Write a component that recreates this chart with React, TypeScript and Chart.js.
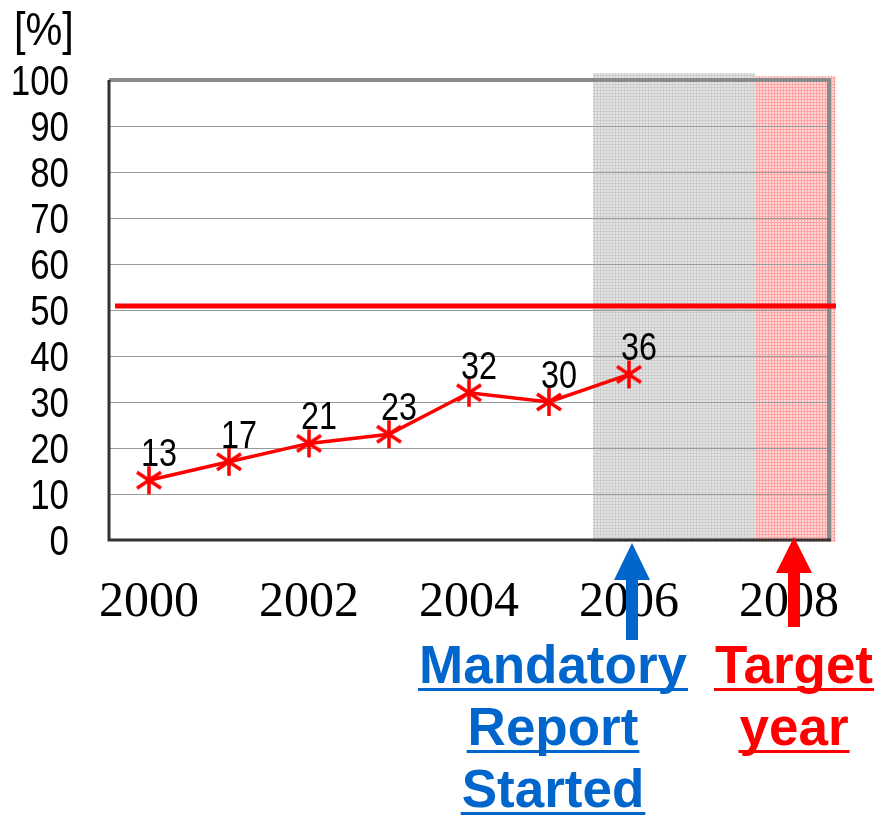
import React, { useEffect, useRef } from 'react';
import { Chart, registerables } from 'chart.js';

Chart.register(...registerables);

const years = ['2000', '2001', '2002', '2003', '2004', '2005', '2006', '2007', '2008'];
const rates: (number | null)[] = [13, 17, 21, 23, 32, 30, 36, null, null];
const targetRate = 50;
const yTitle = '[%]';
const mandatoryText = ['Mandatory', 'Report', 'Started'];
const targetText = ['Target', 'year'];

const SANS = '"Liberation Sans", Arial, sans-serif';
const SERIF = '"Liberation Serif", "Times New Roman", serif';

function makeStar(): HTMLCanvasElement {
  const c = document.createElement('canvas');
  c.width = 30;
  c.height = 30;
  const g = c.getContext('2d')!;
  g.strokeStyle = '#ff0000';
  g.lineWidth = 3.5;
  g.lineCap = 'butt';
  g.beginPath();
  g.moveTo(15, 1); g.lineTo(15, 29);
  g.moveTo(3, 7); g.lineTo(27, 23);
  g.moveTo(3, 23); g.lineTo(27, 7);
  g.stroke();
  return c;
}

function makePattern(ctx: CanvasRenderingContext2D, base: string, line: string) {
  const c = document.createElement('canvas');
  c.width = 3;
  c.height = 3;
  const g = c.getContext('2d')!;
  g.fillStyle = base;
  g.fillRect(0, 0, 3, 3);
  g.fillStyle = line;
  g.fillRect(0, 0, 1, 3);
  g.fillRect(0, 0, 3, 1);
  return ctx.createPattern(c, 'repeat')!;
}

function narrowText(
  ctx: CanvasRenderingContext2D,
  text: string,
  x: number,
  y: number,
  size: number,
  align: CanvasTextAlign,
  baseline: CanvasTextBaseline,
  sx = 0.83
) {
  ctx.save();
  ctx.translate(x, y);
  ctx.scale(sx, 1);
  ctx.font = `${size}px ${SANS}`;
  ctx.textAlign = align;
  ctx.textBaseline = baseline;
  ctx.fillStyle = '#000';
  ctx.fillText(text, 0, 0);
  ctx.restore();
}

const decorPlugin = {
  id: 'decor',
  beforeDraw(chart: any) {
    const ctx = chart.ctx as CanvasRenderingContext2D;
    const ca = chart.chartArea;
    const xs = chart.scales.x;
    const band = xs.getPixelForValue(1) - xs.getPixelForValue(0);
    const grayL = xs.getPixelForValue(6) - band * 0.45;
    const grayR = xs.getPixelForValue(7) + band * 0.58;
    const redR = xs.getPixelForValue(8) + band * 0.58;
    ctx.save();
    ctx.fillStyle = makePattern(ctx, '#e4e4e4', '#cdcdcd');
    ctx.fillRect(grayL, ca.top - 7, grayR - grayL, ca.bottom - ca.top + 9);
    ctx.fillStyle = makePattern(ctx, '#ffd9d9', '#ffa3a3');
    ctx.fillRect(grayR, ca.top - 4, redR - grayR, ca.bottom - ca.top + 6);
    ctx.restore();
  },
  beforeDatasetsDraw(chart: any) {
    const ctx = chart.ctx as CanvasRenderingContext2D;
    const ca = chart.chartArea;
    const ys = chart.scales.y;
    ctx.save();
    // frame
    ctx.strokeStyle = '#8a8a8a';
    ctx.lineWidth = 4;
    ctx.beginPath();
    ctx.moveTo(ca.left, ca.top);
    ctx.lineTo(ca.right, ca.top);
    ctx.lineTo(ca.right, ca.bottom);
    ctx.stroke();
    ctx.strokeStyle = '#333';
    ctx.lineWidth = 3;
    ctx.beginPath();
    ctx.moveTo(ca.left, ca.top);
    ctx.lineTo(ca.left, ca.bottom);
    ctx.lineTo(ca.right + 2, ca.bottom);
    ctx.stroke();
    // target line
    const ty = ys.getPixelForValue(targetRate) - 4;
    ctx.strokeStyle = '#ff0000';
    ctx.lineWidth = 5;
    ctx.beginPath();
    ctx.moveTo(ca.left + 6, ty);
    ctx.lineTo(ca.right + 7, ty);
    ctx.stroke();
    ctx.restore();
  },
  afterDraw(chart: any) {
    const ctx = chart.ctx as CanvasRenderingContext2D;
    const ca = chart.chartArea;
    const xs = chart.scales.x;
    const ys = chart.scales.y;
    ctx.save();
    // y title
    narrowText(ctx, yTitle, 14, 45, 46, 'left', 'alphabetic', 0.9);

    // y tick labels (narrow)
    ys.ticks.forEach((t: any) => {
      narrowText(ctx, String(t.value), ca.left - 40, ys.getPixelForValue(t.value) + 15, 42, 'right', 'alphabetic');
    });

    // data labels
    const meta = chart.getDatasetMeta(0);
    meta.data.forEach((p: any, i: number) => {
      const v = rates[i];
      if (v == null) return;
      narrowText(ctx, String(v), p.x + 10, p.y - 14, 39, 'center', 'alphabetic');
    });

    const arrow = (x: number, tip: number, base: number, bottom: number, color: string) => {
      ctx.fillStyle = color;
      ctx.beginPath();
      ctx.moveTo(x, tip);
      ctx.lineTo(x + 18, base);
      ctx.lineTo(x + 6, base);
      ctx.lineTo(x + 6, bottom);
      ctx.lineTo(x - 6, bottom);
      ctx.lineTo(x - 6, base);
      ctx.lineTo(x - 18, base);
      ctx.closePath();
      ctx.fill();
    };
    arrow(xs.getPixelForValue(6) + 3, ca.bottom + 3, ca.bottom + 40, ca.bottom + 100, '#0066cc');
    arrow(xs.getPixelForValue(8) + 5, ca.bottom - 3, ca.bottom + 33, ca.bottom + 87, '#ff0000');

    const lines = (texts: string[], cx: number, baseline0: number, color: string) => {
      ctx.font = `bold 53px ${SANS}`;
      ctx.fillStyle = color;
      ctx.textAlign = 'center';
      ctx.textBaseline = 'alphabetic';
      texts.forEach((t, i) => {
        const by = baseline0 + i * 62;
        ctx.fillText(t, cx, by);
        const w = ctx.measureText(t).width;
        ctx.fillRect(cx - w / 2 - 1, by + 5, w + 2, 3);
      });
    };
    lines(mandatoryText, 553, 683, '#0066cc');
    lines(targetText, 794, 683, '#ff0000');
    ctx.restore();
  },
};

export default function App() {
  const ref = useRef<HTMLCanvasElement | null>(null);
  useEffect(() => {
    if (!ref.current) return;
    const chart = new Chart(ref.current, {
      type: 'line',
      data: {
        labels: years,
        datasets: [
          {
            data: rates,
            borderColor: '#ff0000',
            borderWidth: 3.5,
            pointStyle: makeStar() as any,
            pointRadius: 13,
            pointHoverRadius: 13,
            spanGaps: false,
            fill: false,
            tension: 0,
          },
        ],
      },
      options: {
        responsive: false,
        animation: false,
        devicePixelRatio: 1,
        layout: { padding: { left: 0, right: 50, top: 80, bottom: 0 } },
        plugins: { legend: { display: false }, tooltip: { enabled: false } },
        scales: {
          x: {
            type: 'category',
            offset: true,
            grid: { display: false, drawTicks: false },
            border: { display: false },
            ticks: {
              autoSkip: false,
              maxRotation: 0,
              color: '#000',
              padding: 33,
              font: { family: SERIF, size: 50 },
              callback: (_v: any, idx: number) => (idx % 2 === 0 ? years[idx] : ''),
            },
            afterFit: (s: any) => { s.height = 277; },
          },
          y: {
            min: 0,
            max: 100,
            grid: { color: '#9a9a9a', lineWidth: 1, drawTicks: false },
            border: { display: false },
            ticks: {
              stepSize: 10,
              autoSkip: false,
              display: false,
            },
            afterFit: (s: any) => { s.width = 109; },
          },
        },
      },
      plugins: [decorPlugin],
    });
    return () => chart.destroy();
  }, []);
  return (
    <div style={{ position: 'absolute', left: 0, top: 0, width: 879, height: 817 }}>
      <canvas ref={ref} width={879} height={817} style={{ width: 879, height: 817, display: 'block' }} />
    </div>
  );
}
